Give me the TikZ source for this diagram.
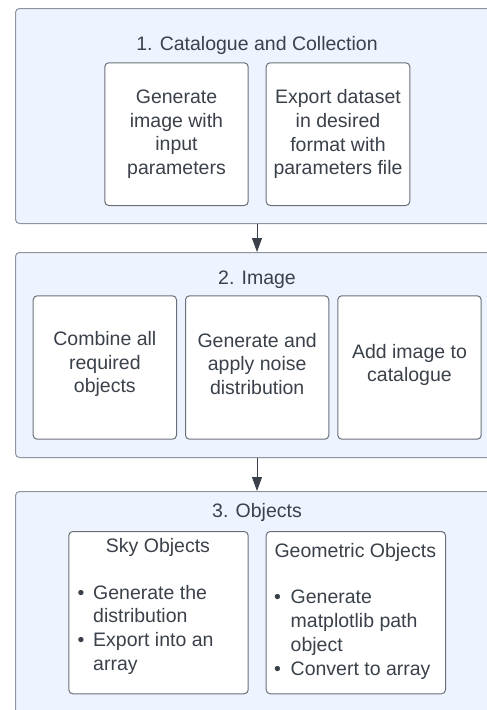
\documentclass[tikz,border=0pt]{standalone}
\usepackage{fontspec}
\setmainfont{Liberation Sans}
\usetikzlibrary{arrows.meta}
\definecolor{cfill}{HTML}{EDF4FF}
\definecolor{cline}{HTML}{8F959E}
\definecolor{bline}{HTML}{6B7078}
\definecolor{txt}{HTML}{3A414A}
\begin{document}
\begin{tikzpicture}[x=1pt,y=-1pt,
  font=\fontsize{19.5}{23.7}\selectfont, text=txt,
  container/.style={draw=cline, fill=cfill, line width=1pt, rounded corners=4pt, inner sep=0pt, anchor=north west},
  stepbox/.style={draw=bline, fill=white, line width=1pt, rounded corners=4pt, inner sep=0pt, anchor=north west, align=center},
  boxtext/.style={inner sep=0pt, align=center},
  lbl/.style={inner sep=0pt, anchor=base west},
  ttl/.style={inner sep=0pt, anchor=base},
  arr/.style={draw=txt, line width=1pt, -{Triangle[length=14pt,width=10pt]}}]
\useasboundingbox (0,0) rectangle (487,710);
\fill[white] (0,0) rectangle (487,710);
\clip (0,0) rectangle (487,710);

% containers
\node[container, minimum width=490pt, minimum height=215pt] (c1) at (15,8) {};
\node[container, minimum width=490pt, minimum height=205pt] (c2) at (15,252) {};
\node[container, minimum width=490pt, minimum height=260pt] (c3) at (15,491) {};

% titles
\node[ttl] (t1) at (257,50) {1. Catalogue and Collection};
\node[ttl] (t2) at (257,284) {2. Image};
\node[ttl] (t3) at (257,517) {3. Objects};

% section 1
\node[stepbox, minimum width=143.4pt, minimum height=142.7pt] (a1) at (104.3,62.3)
  {Generate\\image with\\input\\parameters};
\node[stepbox, minimum width=143.6pt, minimum height=142.7pt] (a2) at (265.7,62.3)
  {Export dataset\\in desired\\format with\\parameters file};

% section 2
\node[stepbox, minimum width=143.3pt, minimum height=143.4pt] (b1) at (32.7,295.3) {};
\node[stepbox, minimum width=143.3pt, minimum height=143.4pt] (b2) at (185,295.3) {};
\node[stepbox, minimum width=143.4pt, minimum height=143.4pt] (b3) at (337.3,295.3) {};
\node[boxtext] (b1x) at ([yshift=3.5pt]b1.center) {Combine all\\required\\objects};
\node[boxtext] (b2x) at ([yshift=3.5pt]b2.center) {Generate and\\apply noise\\distribution};
\node[boxtext] (b3x) at ([yshift=2.5pt]b3.center) {Add image to\\catalogue};

% section 3
\node[stepbox, minimum width=179.4pt, minimum height=162.3pt] (s1) at (68.3,531) {};
\node[stepbox, minimum width=179.3pt, minimum height=162.3pt] (s2) at (265.7,531) {};

\node[ttl] (s1t) at (158,552) {Sky Objects};
\node[lbl] (s1b1) at (77.5,599) {•};
\node[lbl] (s1l1) at (93,599) {Generate the};
\node[lbl] (s1l2) at (93,622.7) {distribution};
\node[lbl] (s1b2) at (77.5,646.4) {•};
\node[lbl] (s1l3) at (93,646.4) {Export into an};
\node[lbl] (s1l4) at (93,670.1) {array};

\node[ttl] (s2t) at (355.3,557) {Geometric Objects};
\node[lbl] (s2b1) at (274,603) {•};
\node[lbl] (s2l1) at (290.5,603) {Generate};
\node[lbl] (s2l2) at (290.5,627.3) {matplotlib path};
\node[lbl] (s2l3) at (290.5,651.6) {object};
\node[lbl] (s2b2) at (274,675.9) {•};
\node[lbl] (s2l4) at (290.5,675.9) {Convert to array};

% connectors
\draw[arr] (c1.south -| t1) -- (c2.north -| t1);
\draw[arr] (c2.south -| t2) -- (c3.north -| t2);
\end{tikzpicture}
\end{document}
